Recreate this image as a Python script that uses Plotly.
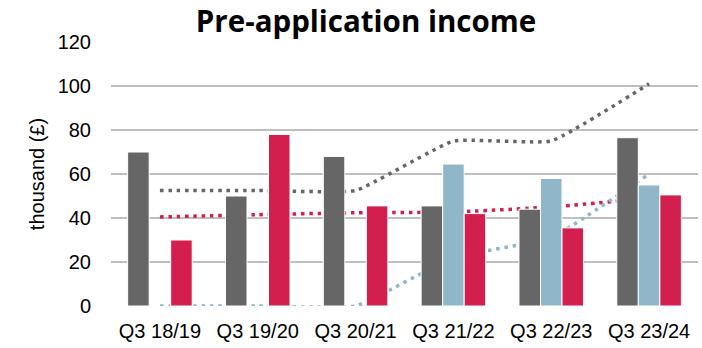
import plotly.graph_objects as go

# Quarterly pre-application income, thousand (£)
categories = ["Q3 18/19", "Q3 19/20", "Q3 20/21", "Q3 21/22", "Q3 22/23", "Q3 23/24"]
grey_bars = [70, 50, 68, 45.5, 44, 76.5]
blue_bars = [None, None, None, 64.5, 58, 55]
red_bars = [30, 78, 45.5, 42, 35.5, 50.5]

# Trend lines (dotted)
grey_trend = [52.5, 52.5, 52.5, 75, 75, 101]
blue_trend = [0, 0, 0, 22, 31, 60]
red_trend = [40.5, 41.5, 42.4, 42.7, 45, 49]

y_ticks = [0, 20, 40, 60, 80, 100, 120]

GREY = "#666666"
BLUE = "#8FB6C9"
RED = "#D21F4D"
LABEL_FONT = "Liberation Sans"

fig = go.Figure()

# trend lines first so the bars sit on top of them
for vals, col in [(grey_trend, GREY), (red_trend, RED), (blue_trend, BLUE)]:
    fig.add_trace(go.Scatter(
        x=categories, y=vals, mode="lines",
        line=dict(color=col, width=3.5, dash="3.5px,4.8px", shape="spline", smoothing=0.35),
        hoverinfo="skip", showlegend=False, zorder=0,
    ))

for vals, col in [(grey_bars, GREY), (blue_bars, BLUE), (red_bars, RED)]:
    fig.add_trace(go.Bar(
        x=categories, y=vals, marker=dict(color=col, line=dict(color="white", width=1)),
        showlegend=False, zorder=1,
    ))

fig.update_layout(
    width=702, height=348,
    margin=dict(l=111, r=4, t=42, b=42),
    paper_bgcolor="white", plot_bgcolor="white",
    barmode="group", bargap=0.34, bargroupgap=0,
    font=dict(family=LABEL_FONT, size=20, color="#000000"),
    title=dict(
        text="<b>Pre-application income</b>",
        font=dict(family="Open Sans", size=29.5, color="#000000"),
        x=366 / 702, xanchor="center", y=1 - 22 / 348, yanchor="middle",
    ),
)

fig.update_xaxes(
    type="category", showgrid=False, showline=True, linecolor="#A0A0A0", linewidth=2,
    ticks="", ticklabelstandoff=6, tickfont=dict(family=LABEL_FONT, size=20),
)
fig.update_yaxes(
    range=[0, 120], tickvals=y_ticks, showgrid=True, gridcolor="#BFBFBF", gridwidth=2,
    showline=True, linecolor="#A0A0A0", linewidth=2, zeroline=False,
    ticks="", ticklabelstandoff=14, tickfont=dict(family=LABEL_FONT, size=20),
    title=dict(text="thousand (£)", font=dict(family=LABEL_FONT, size=20), standoff=8),
)

fig.write_html("out.html")
